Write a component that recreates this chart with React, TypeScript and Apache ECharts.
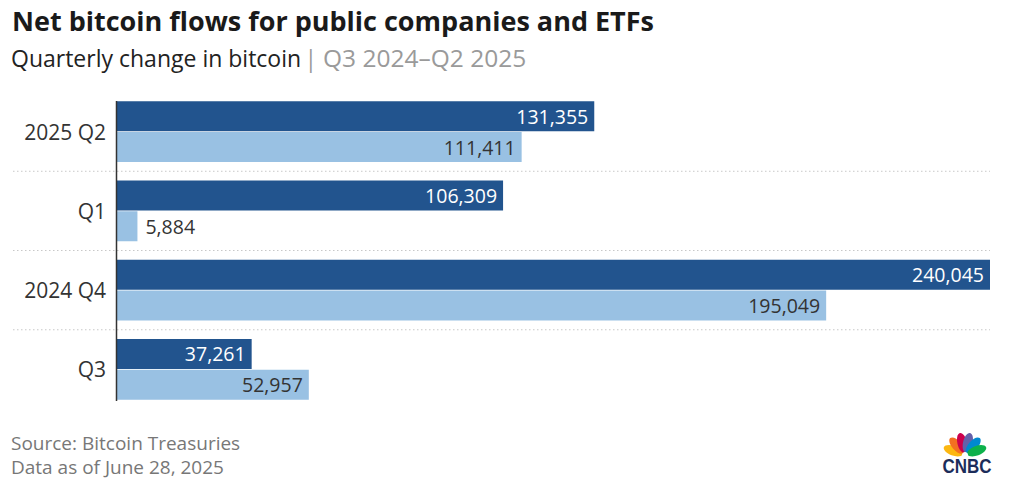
import React, { useEffect, useRef } from "react";
import * as echarts from "echarts";

const categories = ["2025 Q2", "Q1", "2024 Q4", "Q3"];
const companies = [131355, 106309, 240045, 37261];
const etfs = [111411, 5884, 195049, 52957];
const outsideLabels = [false, true, false, false];

const FONT = "'Open Sans', sans-serif";
const GRID_LEFT = 116;
const GRID_RIGHT = 34;
const GRID_TOP = 92;
const GRID_HEIGHT = 317;

export default function App() {
  const ref = useRef<HTMLDivElement>(null);
  useEffect(() => {
    if (!ref.current) return;
    const chart = echarts.init(ref.current, undefined, { renderer: "svg" });
    const band = GRID_HEIGHT / categories.length;
    const sepLines = [1, 2, 3].map((k) => ({
      type: "line",
      shape: { x1: 13, y1: GRID_TOP + band * k, x2: 1024 - GRID_RIGHT, y2: GRID_TOP + band * k },
      style: { stroke: "#c8c8c8", lineWidth: 1, lineDash: [1.5, 2.5] },
      z: 0,
    }));
    const feathers = [
      { a: -70, c: "#FCB711" },
      { a: -41, c: "#F37021" },
      { a: -13, c: "#CC004C" },
      { a: 13, c: "#6460AA" },
      { a: 41, c: "#0089D0" },
      { a: 70, c: "#0DB14B" },
    ];
    const bx = 965, by = 455;
    const peacock = feathers.map((f) => {
      const t = (f.a * Math.PI) / 180;
      return {
        type: "ellipse",
        x: bx + 12.5 * Math.sin(t),
        y: by - 12.5 * Math.cos(t),
        rotation: -t,
        shape: { cx: 0, cy: 0, rx: 4.8, ry: 10 },
        style: { fill: f.c },
      };
    });
    chart.setOption({
      animation: false,
      backgroundColor: "#ffffff",
      grid: { left: GRID_LEFT, right: GRID_RIGHT, top: GRID_TOP, height: GRID_HEIGHT },
      xAxis: {
        type: "value",
        min: 0,
        max: 240045,
        show: false,
      },
      yAxis: {
        type: "category",
        data: categories,
        inverse: true,
        axisLine: { show: false },
        axisTick: { show: false },
        splitLine: { show: false },
        axisLabel: { color: "#333333", fontSize: 21, fontFamily: FONT, margin: 10 },
      },
      series: [
        {
          name: "Public companies",
          type: "bar",
          data: companies,
          barWidth: 30,
          barGap: "3%",
          itemStyle: { color: "#22548E" },
          label: {
            show: true,
            position: "insideRight",
            color: "#ffffff",
            fontSize: 19.5,
            fontFamily: FONT,
            distance: 6,
            formatter: (p: any) => p.value.toLocaleString("en-US"),
          },
        },
        {
          name: "ETFs",
          type: "bar",
          data: etfs.map((v, i) => ({
            value: v,
            label: outsideLabels[i]
              ? { position: "right", distance: 8 }
              : { position: "insideRight", distance: 6 },
          })),
          barWidth: 30,
          itemStyle: { color: "#99C1E3" },
          label: {
            show: true,
            color: "#333333",
            fontSize: 19.5,
            fontFamily: FONT,
            formatter: (p: any) => p.value.toLocaleString("en-US"),
          },
        },
      ],
      graphic: [
        {
          type: "text",
          left: 12,
          top: 7,
          style: {
            text: "Net bitcoin flows for public companies and ETFs",
            fontSize: 27,
            fontWeight: "bold",
            fontFamily: FONT,
            fill: "#1a1a1a",
          },
        },
        {
          type: "text",
          left: 11,
          top: 45,
          style: {
            text: "{a|Quarterly change in bitcoin} {b|| }{c|Q3 2024–Q2 2025}",
            rich: {
              a: { fontSize: 23, fontFamily: FONT, fill: "#222222", color: "#222222" },
              b: { fontSize: 23, fontFamily: FONT, fill: "#9a9a9a", color: "#9a9a9a" },
              c: { fontSize: 24.5, fontFamily: FONT, fill: "#9a9a9a", color: "#9a9a9a" },
            },
          },
        },
        ...sepLines,
        {
          type: "line",
          shape: { x1: GRID_LEFT + 0.5, y1: 101, x2: GRID_LEFT + 0.5, y2: 401 },
          style: { stroke: "#333333", lineWidth: 1.5 },
          z: 10,
        },
        {
          type: "text",
          left: 11,
          top: 431,
          style: {
            text: "Source: Bitcoin Treasuries\nData as of June 28, 2025",
            fontSize: 19,
            lineHeight: 24,
            fontFamily: FONT,
            fill: "#777777",
          },
        },
        ...peacock,
        {
          type: "circle",
          shape: { cx: bx, cy: by, r: 3 },
          style: { fill: "#ffffff" },
        },
        {
          type: "text",
          x: bx + 2,
          y: 456,
          scaleY: 1.15,
          style: {
            text: "CNBC",
            fontSize: 17,
            fontWeight: "bold",
            fontFamily: "'Liberation Sans', Arial, sans-serif",
            fill: "#1c2d5a",
            align: "center",
            verticalAlign: "top",
          },
        },
      ],
    });
    return () => chart.dispose();
  }, []);
  return (
    <div
      ref={ref}
      style={{ position: "absolute", left: 0, top: 0, width: 1024, height: 501 }}
    />
  );
}
